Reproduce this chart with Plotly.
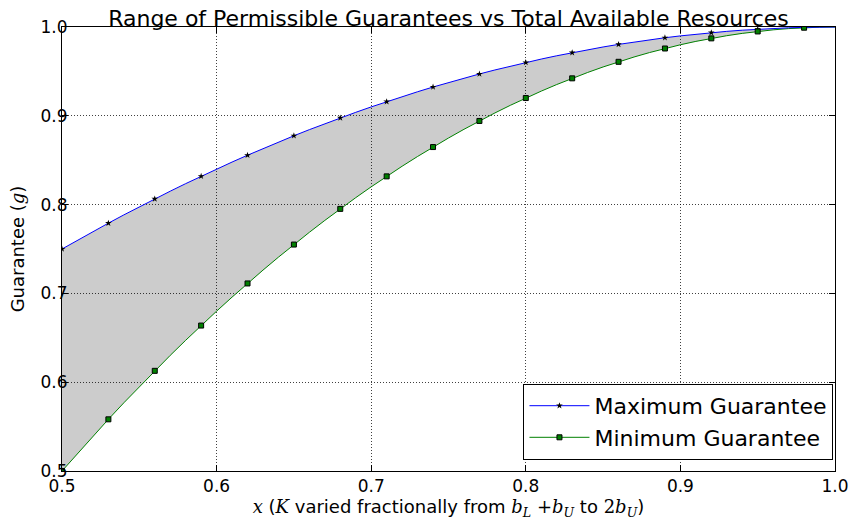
import plotly.graph_objects as go

# Fraction of resources x (K varied from b_L + b_U to 2 b_U)
x_vals = [0.50, 0.51, 0.52, 0.53, 0.54, 0.55, 0.56, 0.57, 0.58, 0.59,
          0.60, 0.61, 0.62, 0.63, 0.64, 0.65, 0.66, 0.67, 0.68, 0.69,
          0.70, 0.71, 0.72, 0.73, 0.74, 0.75, 0.76, 0.77, 0.78, 0.79,
          0.80, 0.81, 0.82, 0.83, 0.84, 0.85, 0.86, 0.87, 0.88, 0.89,
          0.90, 0.91, 0.92, 0.93, 0.94, 0.95, 0.96, 0.97, 0.98, 0.99, 1.00]

max_guarantee = [0.7500, 0.7599, 0.7696, 0.7791, 0.7884, 0.7975, 0.8064, 0.8151, 0.8236, 0.8319,
                 0.8400, 0.8479, 0.8556, 0.8631, 0.8704, 0.8775, 0.8844, 0.8911, 0.8976, 0.9039,
                 0.9100, 0.9159, 0.9216, 0.9271, 0.9324, 0.9375, 0.9424, 0.9471, 0.9516, 0.9559,
                 0.9600, 0.9639, 0.9676, 0.9711, 0.9744, 0.9775, 0.9804, 0.9831, 0.9856, 0.9879,
                 0.9900, 0.9919, 0.9936, 0.9951, 0.9964, 0.9975, 0.9984, 0.9991, 0.9996, 0.9999, 1.0000]

min_guarantee = [0.5000, 0.5198, 0.5392, 0.5582, 0.5768, 0.5950, 0.6128, 0.6302, 0.6472, 0.6638,
                 0.6800, 0.6958, 0.7112, 0.7262, 0.7408, 0.7550, 0.7688, 0.7822, 0.7952, 0.8078,
                 0.8200, 0.8318, 0.8432, 0.8542, 0.8648, 0.8750, 0.8848, 0.8942, 0.9032, 0.9118,
                 0.9200, 0.9278, 0.9352, 0.9422, 0.9488, 0.9550, 0.9608, 0.9662, 0.9712, 0.9758,
                 0.9800, 0.9838, 0.9872, 0.9902, 0.9928, 0.9950, 0.9968, 0.9982, 0.9992, 0.9998, 1.0000]

MARK_EVERY = 3
x_mark = x_vals[::MARK_EVERY]
max_mark = max_guarantee[::MARK_EVERY]
min_mark = min_guarantee[::MARK_EVERY]

tick_vals = [0.5, 0.6, 0.7, 0.8, 0.9, 1.0]
tick_text = ["0.5", "0.6", "0.7", "0.8", "0.9", "1.0"]

FONT = "DejaVu Sans"
MATH = "DejaVu Serif"

fig = go.Figure()

# shaded band between the two curves
fig.add_trace(go.Scatter(x=x_vals, y=min_guarantee, mode="lines",
                         line=dict(color="green", width=1), showlegend=False,
                         hoverinfo="skip"))
fig.add_trace(go.Scatter(x=x_vals, y=max_guarantee, mode="lines",
                         line=dict(color="blue", width=1), fill="tonexty",
                         fillcolor="rgba(0,0,0,0.2)", showlegend=False,
                         hoverinfo="skip"))

# markers every third sample (clipped at the axes frame)
fig.add_trace(go.Scatter(x=x_mark, y=max_mark, mode="markers",
                         marker=dict(symbol="star", size=5, color="black",
                                     line=dict(color="black", width=0)),
                         showlegend=False, cliponaxis=True))
fig.add_trace(go.Scatter(x=x_mark, y=min_mark, mode="markers",
                         marker=dict(symbol="square", size=5, color="green",
                                     line=dict(color="black", width=1)),
                         showlegend=False, cliponaxis=True))

# legend entries
fig.add_trace(go.Scatter(x=[None], y=[None], mode="lines+markers",
                         name="Maximum Guarantee",
                         line=dict(color="blue", width=1),
                         marker=dict(symbol="star", size=5, color="black")))
fig.add_trace(go.Scatter(x=[None], y=[None], mode="lines+markers",
                         name="Minimum Guarantee",
                         line=dict(color="green", width=1),
                         marker=dict(symbol="square", size=5, color="green",
                                     line=dict(color="black", width=1))))

axis_common = dict(
    showline=True, linecolor="black", linewidth=1, mirror="ticks",
    ticks="inside", ticklen=6, tickcolor="black",
    showgrid=True, gridcolor="rgba(0,0,0,0.75)", griddash="1px,2px", gridwidth=1,
    zeroline=False, tickfont=dict(family=FONT, size=17, color="black"),
    tickvals=tick_vals, ticktext=tick_text, automargin=False,
)

fig.update_layout(
    width=851, height=520,
    margin=dict(l=62, r=16, t=27, b=49),
    paper_bgcolor="white", plot_bgcolor="white",
    font=dict(family=FONT, color="black"),
    title=dict(text="Range of Permissible Guarantees vs Total Available Resources",
               font=dict(family=FONT, size=22, color="black"),
               x=0.5, xref="paper", xanchor="center",
               y=1, yref="paper", yanchor="bottom", pad=dict(b=1)),
    xaxis=dict(range=[0.5, 1.0], **axis_common,
               title=dict(text=(f"<span style='font-family:{MATH}'><i>x</i></span> "
                                f"(<span style='font-family:{MATH}'><i>K</i></span> varied fractionally from "
                                f"<span style='font-family:{MATH}'><i>b</i><sub><i>L</i></sub> +<i>b</i><sub><i>U</i></sub></span> to "
                                f"<span style='font-family:{MATH}'>2<i>b</i><sub><i>U</i></sub></span>)"),
                          font=dict(family=FONT, size=18), standoff=2)),
    yaxis=dict(range=[0.5, 1.0], **axis_common, ticklabelstandoff=-10,
               title=dict(text=f"Guarantee (<span style='font-family:{MATH}'><i>g</i></span>)",
                          font=dict(family=FONT, size=18), standoff=11)),
    legend=dict(x=0.998, y=0.025, xanchor="right", yanchor="bottom",
                bgcolor="white", bordercolor="black", borderwidth=1,
                font=dict(family=FONT, size=22, color="black"),
                itemwidth=60, tracegroupgap=0, traceorder="normal"),
    showlegend=True,
)

fig.write_html("out.html")
